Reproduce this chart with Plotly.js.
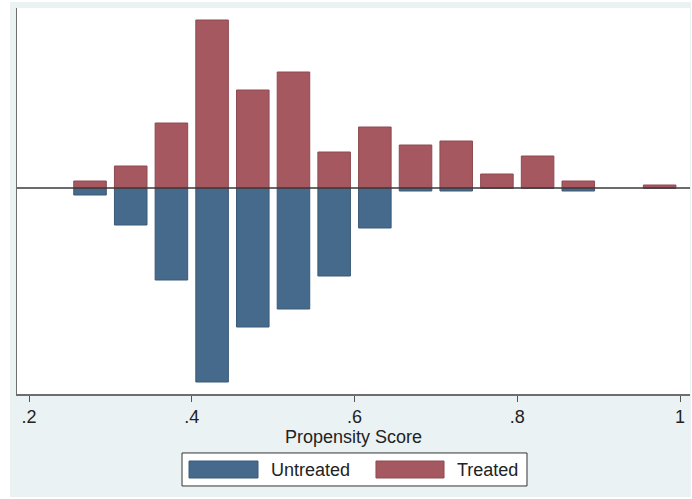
<!DOCTYPE html>
<html>
<head>
<meta charset="utf-8">
<script src="https://cdn.plot.ly/plotly-3.0.1.min.js"></script>
<style>
  html, body { margin: 0; padding: 0; background: #ffffff; }
  #chart { position: absolute; left: 10px; top: 2px; width: 681px; height: 495px; }
</style>
</head>
<body>
<div id="chart"></div>
<script>
// Bin centers of propensity score (bin width 0.05)
const binCenters = [0.275, 0.325, 0.375, 0.425, 0.475, 0.525, 0.575, 0.625, 0.675, 0.725, 0.775, 0.825, 0.875, 0.975];
// Treated frequencies (above axis)
const treatedValues = [7, 22, 65, 168, 98, 116, 36, 61, 43, 47, 14, 32, 7, 3];
// Untreated frequencies (drawn below axis)
const untreatedValues = [7, 37, 92, 194, 139, 121, 88, 40, 3, 3, 0, 0, 3, 0];
// Tick labels
const tickValues = [0.2, 0.4, 0.6, 0.8, 1];
const tickLabels = [".2", ".4", ".6", ".8", "1"];
const seriesNames = ["Untreated", "Treated"];
const xTitle = "Propensity Score";

const blue = "#466a8b";
const red = "#a5585f";

const traces = [
  {
    type: "bar",
    name: seriesNames[0],
    x: binCenters,
    y: untreatedValues.map(v => -v),
    width: 0.04,
    marker: { color: blue, line: { color: "#3a5a78", width: 1 } },
    hoverinfo: "x+y"
  },
  {
    type: "bar",
    name: seriesNames[1],
    x: binCenters,
    y: treatedValues,
    width: 0.04,
    marker: { color: red, line: { color: "#8e4a50", width: 1 } },
    hoverinfo: "x+y"
  }
];

const font = "Liberation Sans, Arial, sans-serif";

const layout = {
  width: 681,
  height: 495,
  margin: { l: 7, r: 1, t: 6, b: 103 },
  paper_bgcolor: "#eaf2f3",
  plot_bgcolor: "#ffffff",
  barmode: "relative",
  showlegend: false,
  font: { family: font, size: 18, color: "#222" },
  xaxis: {
    range: [0.18525, 1.01229],
    tickvals: tickValues,
    ticktext: tickLabels,
    ticks: "outside",
    ticklen: 6,
    tickcolor: "#555",
    tickwidth: 1,
    showline: true,
    linecolor: "#6e6e6e",
    linewidth: 1.5,
    showgrid: false,
    zeroline: false,
    tickfont: { family: font, size: 18, color: "#222" },
    title: { text: xTitle, font: { family: font, size: 18, color: "#222" }, standoff: 0 },
    automargin: false,
    fixedrange: true
  },
  yaxis: {
    range: [-206, 180],
    showticklabels: false,
    ticks: "",
    showline: true,
    linecolor: "#6e6e6e",
    linewidth: 1.5,
    showgrid: false,
    zeroline: false,
    automargin: false,
    fixedrange: true
  },
  shapes: [
    { type: "line", xref: "paper", yref: "y", x0: 0, x1: 1, y0: 0, y1: 0,
      line: { color: "#3a3a3a", width: 1.3 }, layer: "above" },
    // legend box
    { type: "rect", xref: "paper", yref: "paper", x0: 0.2452, x1: 0.7578, y0: -0.1528, y1: -0.2383,
      fillcolor: "#ffffff", line: { color: "#333333", width: 1 } },
    { type: "rect", xref: "paper", yref: "paper", x0: 0.2556, x1: 0.3581, y0: -0.1736, y1: -0.2176,
      fillcolor: blue, line: { color: "#3a5a78", width: 1 } },
    { type: "rect", xref: "paper", yref: "paper", x0: 0.5334, x1: 0.6345, y0: -0.1736, y1: -0.2176,
      fillcolor: red, line: { color: "#8e4a50", width: 1 } }
  ],
  annotations: [
    { xref: "paper", yref: "paper", x: 0.3744, y: -0.1956, text: seriesNames[0], showarrow: false,
      xanchor: "left", yanchor: "middle", font: { family: font, size: 18, color: "#222" } },
    { xref: "paper", yref: "paper", x: 0.6508, y: -0.1956, text: seriesNames[1], showarrow: false,
      xanchor: "left", yanchor: "middle", font: { family: font, size: 18, color: "#222" } }
  ]
};

Plotly.newPlot("chart", traces, layout, { displayModeBar: false, staticPlot: true });
</script>
</body>
</html>
